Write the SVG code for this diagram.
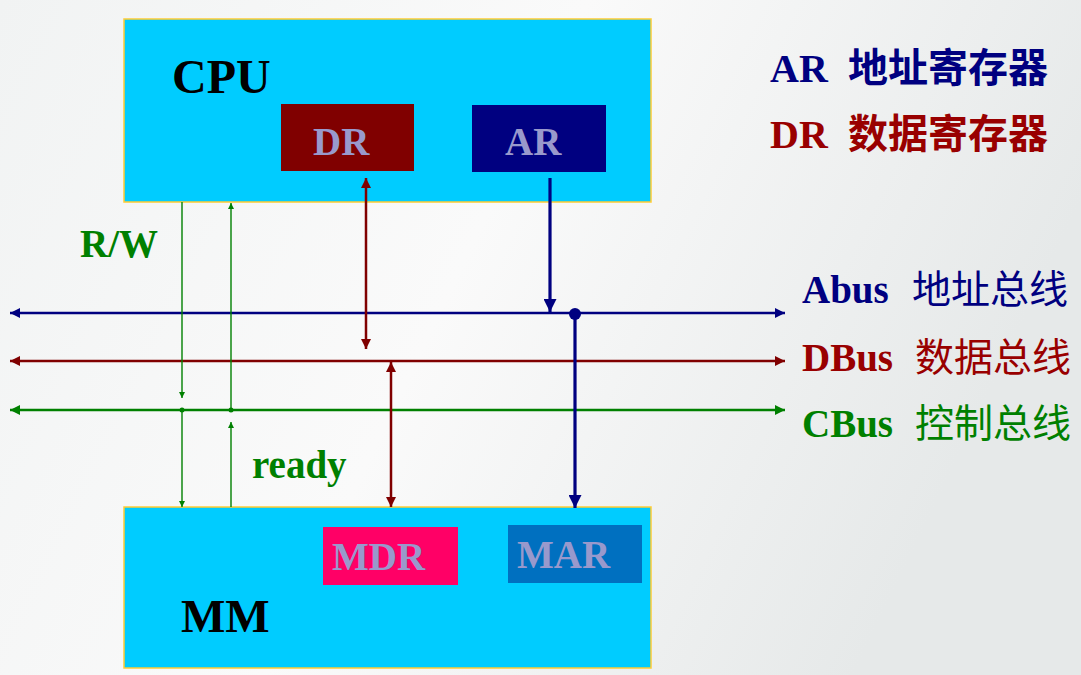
<svg xmlns="http://www.w3.org/2000/svg" width="1081" height="675" viewBox="0 0 1081 675">
<defs>
<linearGradient id="bg" x1="0" y1="0" x2="1" y2="0.3">
<stop offset="0" stop-color="#f1f3f3"/>
<stop offset="0.5" stop-color="#fafafa"/>
<stop offset="1" stop-color="#e6e9e9"/>
</linearGradient>
<marker id="aBlue" viewBox="0 0 10 10" refX="10" refY="5" markerUnits="userSpaceOnUse" markerWidth="12" markerHeight="10" orient="auto-start-reverse"><path d="M0,0 L10,5 L0,10 z" fill="#000080"/></marker>
<marker id="aBlueL" viewBox="0 0 10 10" refX="10" refY="5" markerUnits="userSpaceOnUse" markerWidth="14" markerHeight="13" orient="auto-start-reverse"><path d="M0,0 L10,5 L0,10 z" fill="#000080"/></marker>
<marker id="aRed" viewBox="0 0 10 10" refX="10" refY="5" markerUnits="userSpaceOnUse" markerWidth="12" markerHeight="10" orient="auto-start-reverse"><path d="M0,0 L10,5 L0,10 z" fill="#800000"/></marker>
<marker id="aGreen" viewBox="0 0 10 10" refX="10" refY="5" markerUnits="userSpaceOnUse" markerWidth="12" markerHeight="10" orient="auto-start-reverse"><path d="M0,0 L10,5 L0,10 z" fill="#008000"/></marker>
<marker id="aGreenS" viewBox="0 0 10 10" refX="10" refY="5" markerUnits="userSpaceOnUse" markerWidth="7" markerHeight="6" orient="auto-start-reverse"><path d="M0,0 L10,5 L0,10 z" fill="#008000"/></marker>
</defs>
<style>
.box{fill:#00CCFF;stroke:#FFCC33;stroke-width:1.5}
.reg{font-family:"Liberation Serif",serif;font-weight:bold;font-size:39px;fill:#9999CC}
.big{font-family:"Liberation Serif",serif;font-weight:bold;fill:#000}
.lat{font-family:"Liberation Serif",serif;font-weight:bold}
.cjk{font-family:"Noto Sans CJK SC",sans-serif}
.bus{fill:none;stroke-width:2.5}
.g{fill:none;stroke:#008000;stroke-width:1.4}
</style>
<rect width="1081" height="675" fill="url(#bg)"/>

<g id="cpu">
<rect class="box" x="124" y="19" width="527" height="183"/>
<text class="big" x="172" y="93" font-size="48">CPU</text>
</g>
<g id="dr">
<rect x="281" y="104" width="133" height="67" fill="#800000"/>
<text class="reg" x="313" y="155">DR</text>
</g>
<g id="ar">
<rect x="472" y="105" width="134" height="67" fill="#000080"/>
<text class="reg" x="505" y="155">AR</text>
</g>
<g id="mm">
<rect class="box" x="124" y="507" width="527" height="161"/>
<text class="big" x="181" y="632" font-size="47">MM</text>
</g>
<g id="mdr">
<rect x="323" y="527" width="135" height="58" fill="#FF0066"/>
<text class="reg" x="332" y="570">MDR</text>
</g>
<g id="mar">
<rect x="508" y="525" width="134" height="58" fill="#0070C0"/>
<text class="reg" x="517" y="568">MAR</text>
</g>

<g id="legend">
<text class="lat" x="770" y="82" font-size="40" fill="#000080">AR</text>
<text class="cjk" x="848" y="82" font-size="40" font-weight="bold" fill="#000080">地址寄存器</text>
<text class="lat" x="770" y="148" font-size="40" fill="#990000">DR</text>
<text class="cjk" x="848" y="148" font-size="40" font-weight="bold" fill="#990000">数据寄存器</text>
</g>

<g id="bus-labels">
<text class="lat" x="802" y="303" font-size="39" fill="#000080">Abus</text>
<text class="cjk" x="912" y="303" font-size="39" fill="#000080">地址总线</text>
<text class="lat" x="802" y="371" font-size="39" fill="#990000">DBus</text>
<text class="cjk" x="915" y="371" font-size="39" fill="#990000">数据总线</text>
<text class="lat" x="802" y="437" font-size="39" fill="#008000">CBus</text>
<text class="cjk" x="915" y="437" font-size="39" fill="#008000">控制总线</text>
<text class="lat" x="80" y="257" font-size="39" fill="#008000">R/W</text>
<text class="lat" x="252" y="478" font-size="39" fill="#008000">ready</text>
</g>

<g id="connectors">
<line class="bus" x1="10" y1="313" x2="785" y2="313" stroke="#000080" marker-start="url(#aBlue)" marker-end="url(#aBlue)"/>
<line class="bus" x1="10" y1="361" x2="785" y2="361" stroke="#800000" marker-start="url(#aRed)" marker-end="url(#aRed)"/>
<line class="bus" x1="10" y1="410" x2="785" y2="410" stroke="#008000" marker-start="url(#aGreen)" marker-end="url(#aGreen)"/>

<line class="g" x1="182" y1="202" x2="182" y2="398" marker-end="url(#aGreenS)"/>
<line class="g" x1="182" y1="410" x2="182" y2="507" marker-end="url(#aGreenS)"/>
<circle cx="182" cy="410" r="2.5" fill="#008000"/>
<line class="g" x1="231" y1="507" x2="231" y2="422" marker-end="url(#aGreenS)"/>
<line class="g" x1="231" y1="410" x2="231" y2="203" marker-end="url(#aGreenS)"/>
<circle cx="231" cy="410" r="2.5" fill="#008000"/>

<line x1="366" y1="178" x2="366" y2="349" stroke="#800000" stroke-width="2.5" marker-start="url(#aRed)" marker-end="url(#aRed)"/>
<line x1="391" y1="362" x2="391" y2="507" stroke="#800000" stroke-width="2.5" marker-start="url(#aRed)" marker-end="url(#aRed)"/>

<line x1="550" y1="178" x2="550" y2="312" stroke="#000080" stroke-width="3.2" marker-end="url(#aBlueL)"/>
<circle cx="575" cy="314" r="6" fill="#000080"/>
<line x1="575" y1="314" x2="575" y2="508" stroke="#000080" stroke-width="3.2" marker-end="url(#aBlueL)"/>
</g>
</svg>
